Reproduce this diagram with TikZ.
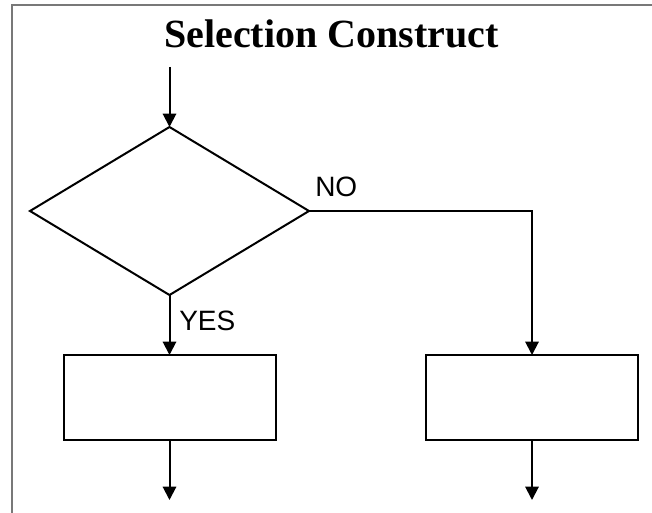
\documentclass[tikz,border=0pt]{standalone}
\usepackage{fontspec}
\setmainfont{Liberation Serif}
\setsansfont{Liberation Sans}
\usetikzlibrary{shapes.geometric,arrows.meta}

\begin{document}
\begin{tikzpicture}[x=0.75pt,y=0.75pt,yscale=-1,xscale=1,
  flow/.style={line width=1.5pt,-{Triangle[length=10pt,width=10pt]}},
  procbox/.style={draw,line width=1.5pt,minimum width=159pt,minimum height=63.75pt,inner sep=0pt,outer sep=0pt},
  lbl/.style={inner sep=0pt,font=\sffamily\fontsize{21}{25}\selectfont}]
  \useasboundingbox (0,0) rectangle (652,513);

  %Frame
  \draw [color={rgb, 255:red, 120; green, 120; blue, 120 }, line width=0.8pt] (12,513) -- (12,5) -- (652,5);

  % Title Node
  \node (title) at (331.5,48) [anchor=base,inner sep=0pt] {\fontsize{30}{36}\selectfont\bfseries Selection Construct};

  % Decision
  \node (dec) at (169.5,211) [draw,diamond,line width=1.5pt,minimum width=209.25pt,minimum height=126pt,inner sep=0pt,outer sep=0pt] {};
  % Process boxes
  \node (lbox) at (169.5,397.5) [procbox] {};
  \node (rbox) at (532,397.5) [procbox] {};

  \coordinate (start) at (169.5,67);
  \coordinate (lend) at (169.5,500);
  \coordinate (rend) at (532,500);

  %Connectors
  \draw [flow] (start) -- (dec.north);
  \draw [flow] (dec.south) -- (lbox.north);
  \draw [flow] (dec.east) -| (rbox.north);
  \draw [flow] (lbox.south) -- (lend);
  \draw [flow] (rbox.south) -- (rend);

  % Text Node
  \node (yes) at (179,330) [lbl,anchor=base west] {YES};
  % Text Node
  \node (no) at (315,197) [lbl,anchor=base west] {NO};

\end{tikzpicture}
\end{document}
